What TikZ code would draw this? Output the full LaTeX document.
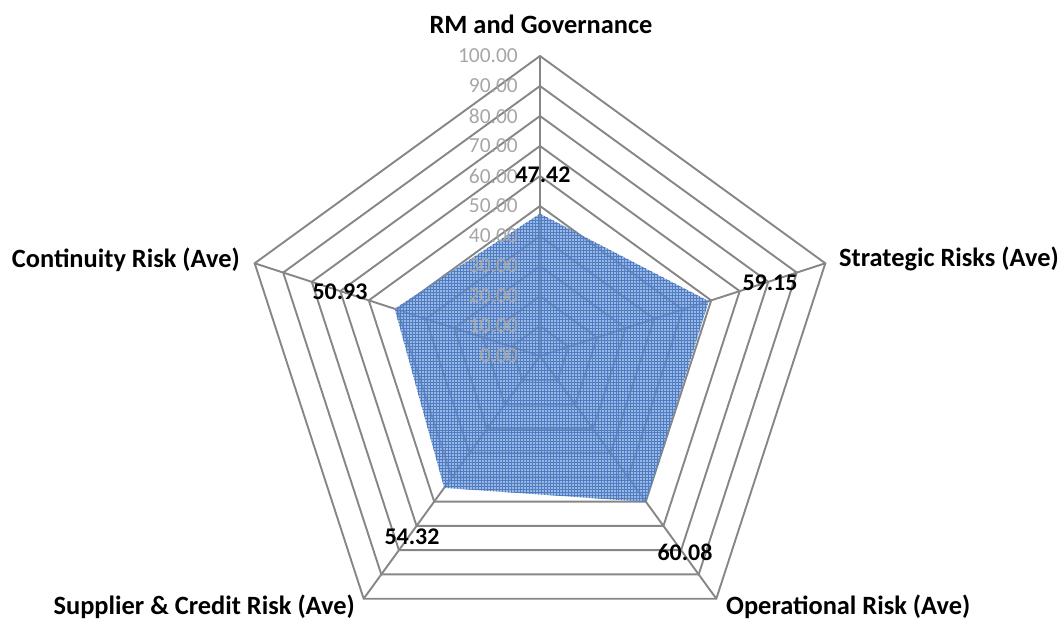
\documentclass[tikz,border=0pt]{standalone}
\usepackage{fontspec}
\setmainfont{Carlito}
\usepackage{tikz}
\usetikzlibrary{patterns}

\definecolor{gridgray}{RGB}{134,134,134}
\definecolor{tickgray}{RGB}{166,166,166}
\definecolor{areablue}{RGB}{112,152,214}
\definecolor{hatchblue}{RGB}{79,125,196}

\tikzset{
  gridline/.style={gridgray,line width=1.9bp},
  ticklabel/.style={tickgray,anchor=east,inner sep=0pt,font=\fontsize{21.5}{21.5}\selectfont},
  valuelabel/.style={inner sep=0pt,font=\bfseries\fontsize{24}{24}\selectfont},
  axislabel/.style={inner sep=0pt,font=\bfseries\fontsize{26.5}{26.5}\selectfont}
}

\begin{document}
\begin{tikzpicture}[x=1bp,y=1bp]
\useasboundingbox (-540,-265) rectangle (523,356);
% rings
\draw[gridline] (90:30) -- (18:30) -- (-54:30) -- (-126:30) -- (162:30) -- cycle;
\draw[gridline] (90:60) -- (18:60) -- (-54:60) -- (-126:60) -- (162:60) -- cycle;
\draw[gridline] (90:90) -- (18:90) -- (-54:90) -- (-126:90) -- (162:90) -- cycle;
\draw[gridline] (90:120) -- (18:120) -- (-54:120) -- (-126:120) -- (162:120) -- cycle;
\draw[gridline] (90:150) -- (18:150) -- (-54:150) -- (-126:150) -- (162:150) -- cycle;
\draw[gridline] (90:180) -- (18:180) -- (-54:180) -- (-126:180) -- (162:180) -- cycle;
\draw[gridline] (90:210) -- (18:210) -- (-54:210) -- (-126:210) -- (162:210) -- cycle;
\draw[gridline] (90:240) -- (18:240) -- (-54:240) -- (-126:240) -- (162:240) -- cycle;
\draw[gridline] (90:270) -- (18:270) -- (-54:270) -- (-126:270) -- (162:270) -- cycle;
\draw[gridline] (90:300) -- (18:300) -- (-54:300) -- (-126:300) -- (162:300) -- cycle;
% spokes
\coordinate (O) at (0,0);
\draw[gridline] (O) -- (90:300);
\draw[gridline] (O) -- (18:300);
\draw[gridline] (O) -- (-54:300);
\draw[gridline] (O) -- (-126:300);
\draw[gridline] (O) -- (162:300);
% data
\coordinate (rm) at (90:142.26);
\coordinate (sr) at (18:177.45);
\coordinate (or) at (-54:180.24);
\coordinate (sc) at (-126:162.96);
\coordinate (cr) at (162:152.79);
\fill[areablue,fill opacity=0.7] (rm) -- (sr) -- (or) -- (sc) -- (cr) -- cycle;
\fill[pattern=grid,pattern color=hatchblue,fill opacity=0.45] (rm) -- (sr) -- (or) -- (sc) -- (cr) -- cycle;
% scale
\node[ticklabel] (t0) at (-22,0) {0.00};
\node[ticklabel] (t10) at (-22,30) {10.00};
\node[ticklabel] (t20) at (-22,60) {20.00};
\node[ticklabel] (t30) at (-22,90) {30.00};
\node[ticklabel] (t40) at (-22,120) {40.00};
\node[ticklabel] (t50) at (-22,150) {50.00};
\node[ticklabel] (t60) at (-22,180) {60.00};
\node[ticklabel] (t70) at (-22,210) {70.00};
\node[ticklabel] (t80) at (-22,240) {80.00};
\node[ticklabel] (t90) at (-22,270) {90.00};
\node[ticklabel] (t100) at (-22,300) {100.00};
% values
\node[valuelabel] (vrm) at (3,181) {47.42};
\node[valuelabel] (vsr) at (230,73) {59.15};
\node[valuelabel] (vor) at (145,-196) {60.08};
\node[valuelabel] (vsc) at (-128,-181) {54.32};
\node[valuelabel] (vcr) at (-200,64) {50.93};
% axis names
\node[axislabel] (RM) at (1,332) {RM and Governance};
\node[axislabel,anchor=west] (SR) at (299,97) {Strategic Risks (Ave)};
\node[axislabel,anchor=west] (OR) at (186,-251) {Operational Risk (Ave)};
\node[axislabel,anchor=east] (SC) at (-185,-251) {Supplier \& Credit Risk (Ave)};
\node[axislabel,anchor=east] (CR) at (-300,96) {Continuity Risk (Ave)};
\end{tikzpicture}
\end{document}
